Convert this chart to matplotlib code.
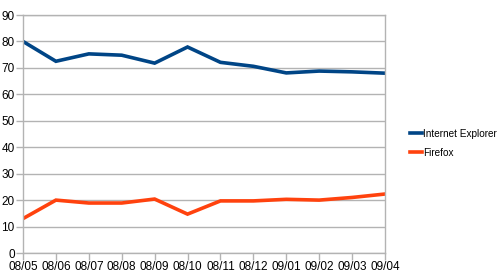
import matplotlib
matplotlib.use("Agg")
import matplotlib.pyplot as plt

# Données
mois = ["08/05", "08/06", "08/07", "08/08", "08/09", "08/10",
        "08/11", "08/12", "09/01", "09/02", "09/03", "09/04"]
ie = [80.0, 72.5, 75.3, 74.8, 71.8, 77.9, 72.1, 70.6, 68.1, 68.8, 68.5, 68.0]
firefox = [13.0, 20.0, 18.9, 18.9, 20.4, 14.7, 19.7, 19.7, 20.3, 20.0, 21.0, 22.3]

plt.rcParams["font.family"] = ["Liberation Sans", "DejaVu Sans"]
grid_color = "#b3b3b3"

fig = plt.figure(figsize=(5.03, 2.80), dpi=100)
ax = fig.add_axes([23 / 503, 27 / 280, 362 / 503, 238 / 280])

x = list(range(len(mois)))
ax.plot(x, ie, color="#004586", linewidth=2.6, label="Internet Explorer", solid_joinstyle="miter")
ax.plot(x, firefox, color="#ff420e", linewidth=2.6, label="Firefox", solid_joinstyle="miter")

ax.set_xlim(0, len(mois) - 1)
ax.set_ylim(0, 90)
ax.set_yticks(range(0, 91, 10))
ax.set_xticks(x)
ax.set_xticklabels(mois)
ax.yaxis.grid(True, color=grid_color, linewidth=1)
ax.set_axisbelow(True)

for s in ax.spines.values():
    s.set_color(grid_color)
    s.set_linewidth(1)

ax.tick_params(axis="both", colors=grid_color, labelcolor="black",
               labelsize=8.5, length=5, width=1, pad=1)

ax.legend(loc="center left", bbox_to_anchor=(1.07, 0.462), frameon=False,
          fontsize=7.2, handlelength=1.2, handletextpad=0.05,
          labelspacing=0.9, borderaxespad=0, borderpad=0)

fig.savefig("out.png", dpi=100)
